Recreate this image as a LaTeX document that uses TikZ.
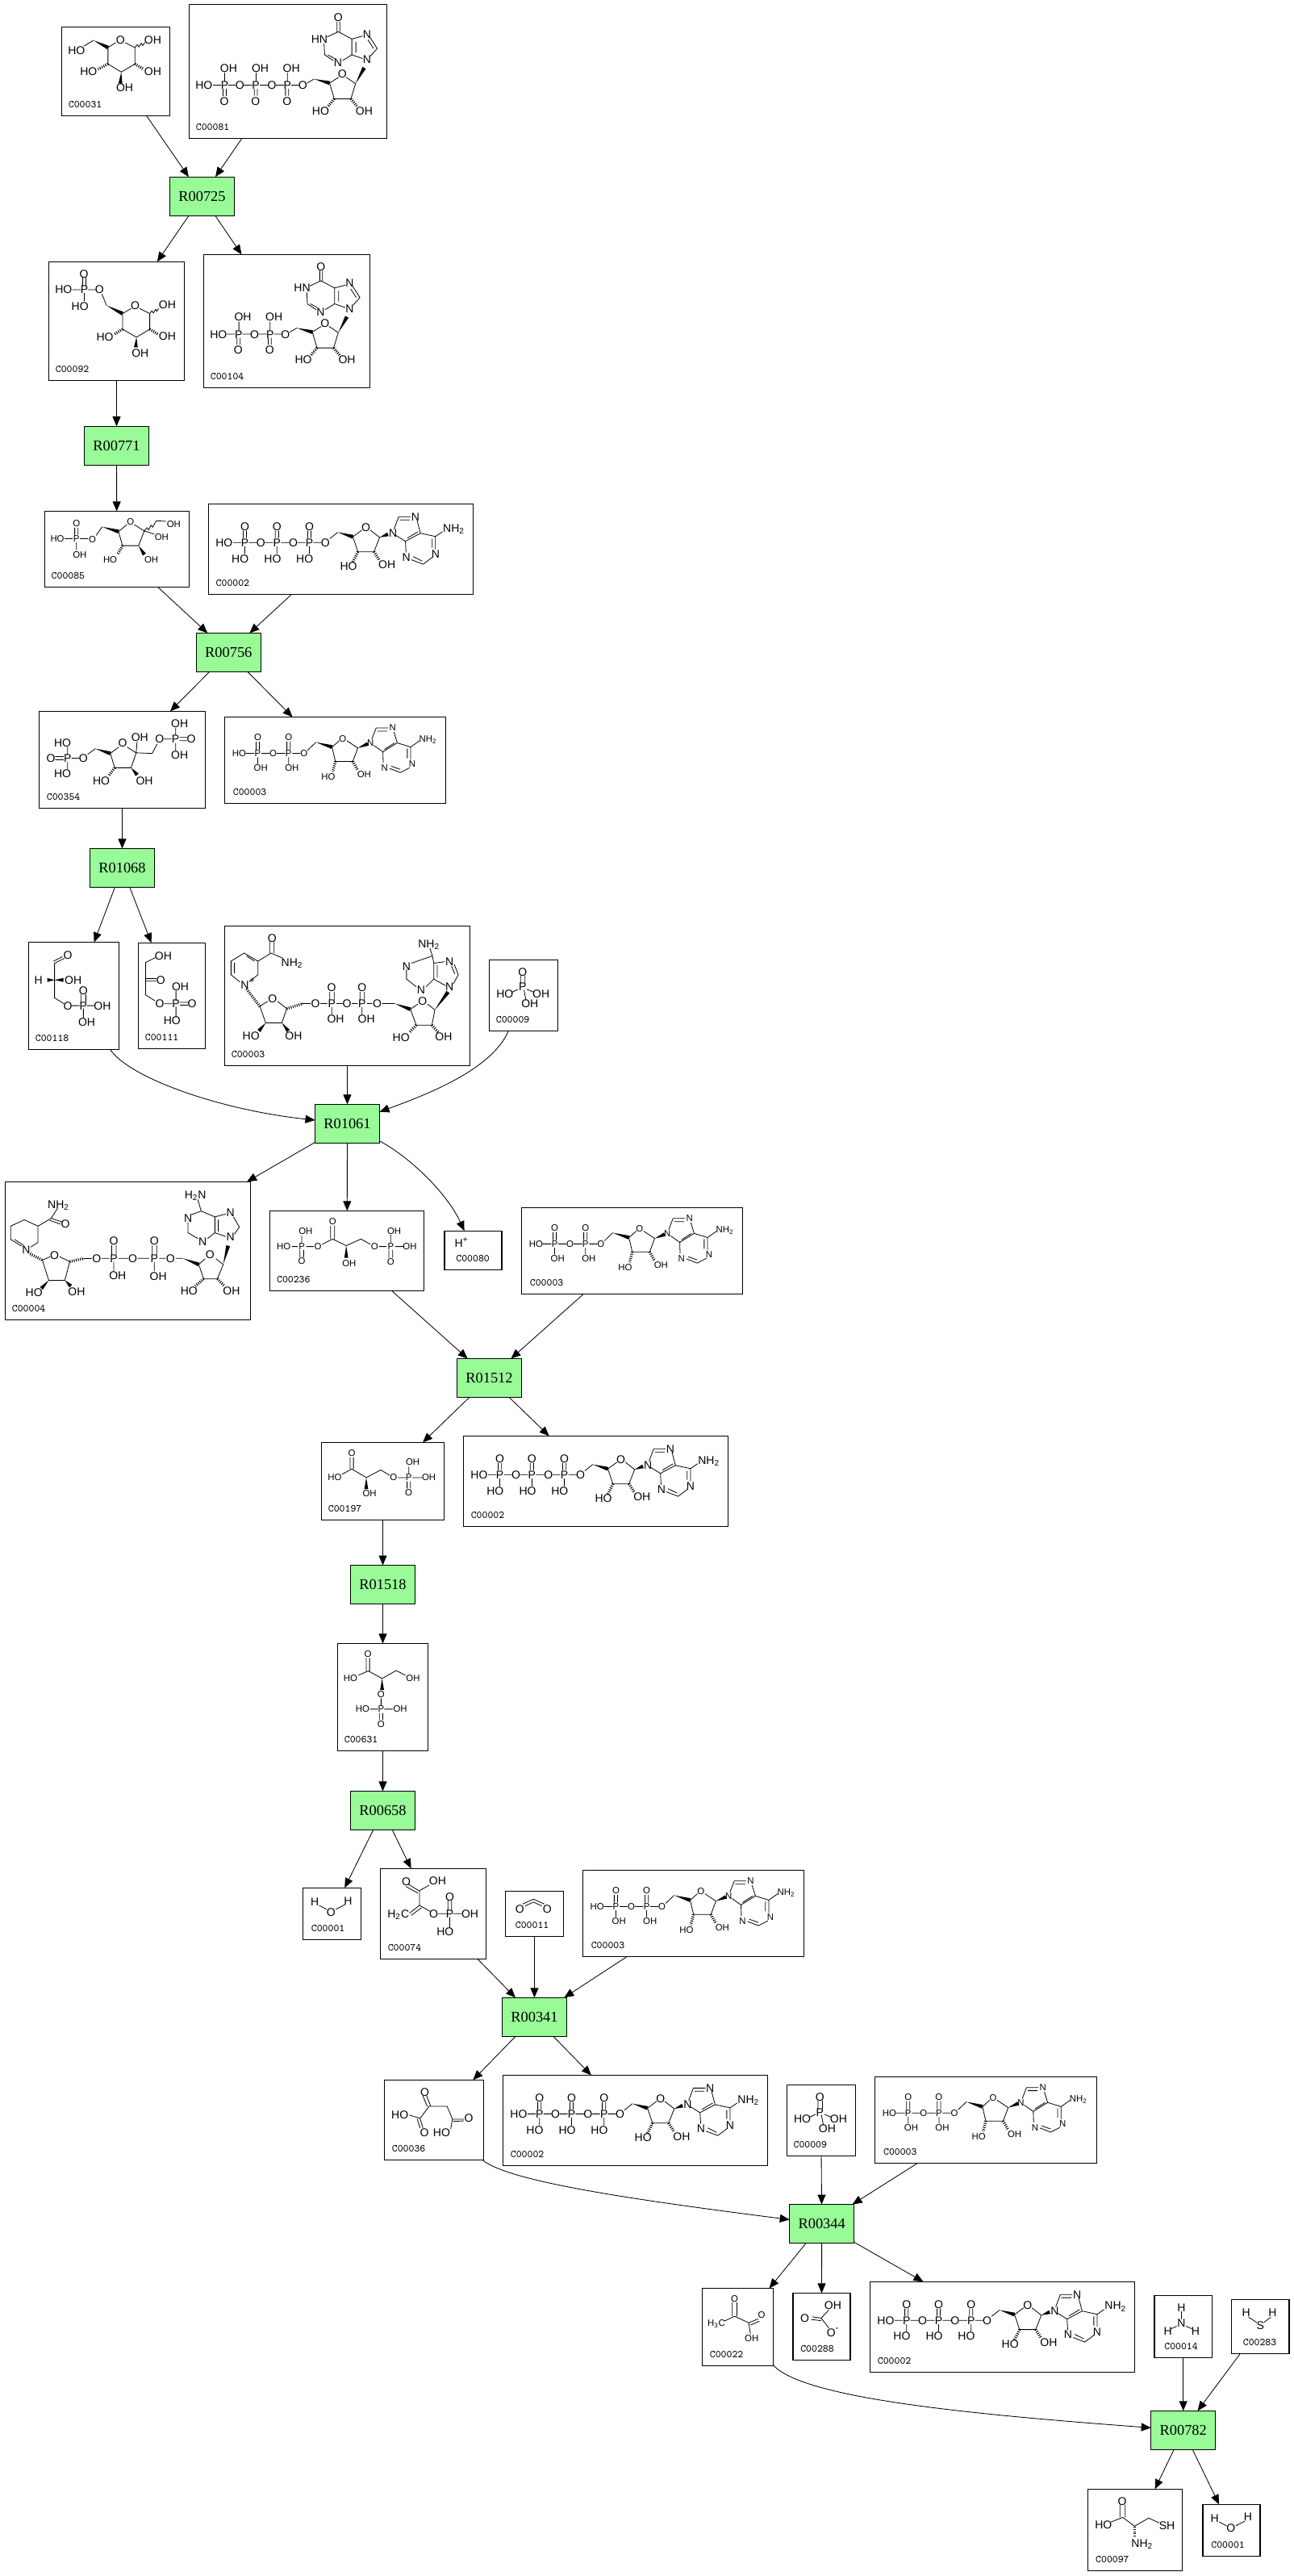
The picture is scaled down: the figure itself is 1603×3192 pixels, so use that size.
\documentclass[tikz,border=0pt]{standalone}
\usepackage{fontspec}
\setmainfont{Liberation Sans}
\newfontfamily\rxnfont{Liberation Serif}
\usetikzlibrary{arrows.meta,calc}
\definecolor{rxngreen}{RGB}{152,251,152}
\tikzset{
  cpd/.style={draw=black,line width=.6pt,fill=white,inner sep=0pt,outer sep=0pt},
  rxn/.style={draw=black,line width=.6pt,fill=rxngreen,inner sep=0pt,outer sep=0pt,minimum width=40pt,minimum height=24pt,font=\rxnfont\fontsize{9.2}{10}\selectfont},
  cpdlab/.style={inner sep=0pt,anchor=base west,font=\ttfamily\fontsize{6.5}{7}\selectfont},
  atom/.style={inner sep=0pt,text height=5pt,text depth=0pt,font=\fontsize{7}{8}\selectfont},
  smallatom/.style={inner sep=0pt,text height=4pt,text depth=0pt,font=\fontsize{5.7}{6.5}\selectfont},
  bond/.style={line width=.4pt},
  hashbond/.style={line width=1.7pt,dash pattern=on .5pt off .8pt},
  reacts/.style={-{Triangle[length=6pt,width=5pt]},line width=.42pt},
  zonea/.style={x=.1913pt,y=-.1786pt},
  zoneb/.style={x=.2073pt,y=-.1977pt},
  zonec/.style={x=.3029pt,y=-.1786pt},
  zoned/.style={x=.2041pt,y=-.1977pt},
  zonee/.style={x=.2232pt,y=-.1667pt},
  zonef/.style={x=.3645pt,y=-.2015pt},
}
\newcommand{\atoms}[2][atom]{\foreach \x/\y/\t in {#2} {\node[#1] (atom\x-\y) at (\x,\y) {\t};}}
\newcommand{\wdg}[2]{\fill (#1) -- ($(#2)!1.2pt!90:(#1)$) -- ($(#2)!1.2pt!-90:(#1)$) -- cycle;}
\newcommand{\hsh}[2]{\draw[hashbond] (#1) -- (#2);}
\newcommand{\cpdbox}[7][8]{\node[cpd,minimum width=#5*.5pt,minimum height=#6*.5pt] (#2) at (#3,#4) {};
  \node[cpdlab] (#2lab) at ([xshift=#1*.5pt,yshift=5pt]#2.south west) {#7};}
% Inosine part shared by the two nucleotides
\newcommand{\inosinepart}{
  \atoms{1096/60/O,1035/135/HN,1189/118/N,1189/207/N,1095/218/N,843/236/OH,944/236/OH,829/295/P,881/295/O,931/295/P,981/295/O,1109/256/O,828/350/O,930/350/O,1039/384/HO,1180/384/OH}
  \draw[bond] (790,295)--(817,295) (842,295)--(869,295) (894,295)--(920,295) (943,295)--(968,295)
    (830,252)--(830,282) (931,252)--(931,282) (824,308)--(824,332) (834,308)--(834,332) (925,308)--(925,332) (935,308)--(935,332)
    (995,288)--(1018,274) (1068,288)--(1097,268) (1122,268)--(1152,290)--(1137,343)--(1083,343)--(1068,288)
    (1092,75)--(1092,110) (1101,75)--(1101,110) (1096,110)--(1060,128) (1050,150)--(1052,190)--(1080,210) (1062,190)--(1084,203)
    (1110,210)--(1140,190)--(1140,135)--(1096,110) (1153,145)--(1153,182)
    (1140,135)--(1175,125) (1198,128)--(1222,168)--(1200,195) (1192,138)--(1210,168) (1175,203)--(1140,190);
  \wdg{1018,274}{1068,288} \wdg{1152,290}{1180,235}
  \hsh{1083,343}{1062,370} \hsh{1137,343}{1158,370}
}
\tikzset{
  glucose/.pic={\begin{scope}[zonea,shift={(-200,-93)}]
    \atoms{248/174/HO,390/138/O,495/138/OH,287/249/HO,495/249/OH,404/305/OH}
    \draw[bond] (375,148)--(350,165)--(350,222)--(393,250)--(437,222)--(437,165)--(405,148) (303,140)--(272,160)
      (437,165)--(445,155)--(450,163)--(458,150)--(462,158)--(470,147);
    \wdg{303,140}{350,165} \wdg{393,250}{390,290}
    \hsh{350,222}{318,240} \hsh{437,222}{465,240}
  \end{scope}},
  itp/.pic={\begin{scope}[zonea,shift={(-613,-15)}]
    \inosinepart
    \atoms{741/236/OH,661/295/HO,728/295/P,777/295/O,727/350/O}
    \draw[bond] (690,295)--(716,295) (740,295)--(764,295) (728,252)--(728,282) (723,308)--(723,332) (733,308)--(733,332);
  \end{scope}},
  idp/.pic={\begin{scope}[zonea,shift={(-716,-19)}]
    \inosinepart
    \atoms{764/295/HO}
  \end{scope}},
  gsixp/.pic={\begin{scope}[zonea,shift={(-158,-908)}]
    \atoms{272/950/O,206/1005/HO,273/1005/P,322/1005/O,259/1062/HO,438/1060/O,542/1058/OH,340/1168/HO,542/1165/OH,454/1224/OH}
    \draw[bond] (234,1005)--(262,1005) (284,1005)--(310,1005) (273,1016)--(273,1045) (268,962)--(268,993) (278,962)--(278,993) (330,1020)--(345,1060)
      (397,1088)--(425,1070) (452,1070)--(485,1088)--(485,1142)--(442,1170)--(397,1142)--(397,1088)
      (485,1088)--(492,1078)--(497,1086)--(504,1073)--(508,1080)--(514,1070);
    \wdg{345,1060}{397,1088} \wdg{442,1170}{440,1205}
    \hsh{397,1142}{370,1160} \hsh{485,1142}{512,1160}
  \end{scope}},
  fsixp/.pic={\begin{scope}[zoneb,shift={(-134,-186)}]
    \atoms[smallatom]{229/225/O,172/272/HO,229/272/P,277/274/O,239/322/OH,391/219/O,520/227/OH,484/267/OH,330/338/HO,453/338/OH}
    \draw[bond] (194,272)--(218,272) (240,272)--(264,272) (229,284)--(229,308) (224,238)--(224,260) (234,238)--(234,260) (288,262)--(306,235)
      (355,250)--(380,228) (402,228)--(432,248)--(415,294)--(367,294)--(355,250) (432,248)--(462,258)
      (432,248)--(440,238)--(445,245)--(452,230)--(457,236)--(468,216)--(498,218);
    \wdg{306,235}{355,250} \wdg{415,294}{432,322}
    \hsh{367,294}{352,322}
  \end{scope}},
  atp/.pic={\begin{scope}[zoneb,shift={(-623,-163)}]
    \atoms{732/233/O,828/233/O,925/233/O,670/284/HO,732/284/P,780/284/O,828/284/P,877/284/O,925/284/P,973/284/O,718/334/HO,815/334/HO,911/334/HO,1094/236/O,1175/254/N,1242/203/N,1357/238/NH\textsubscript{2},1215/329/N,1302/319/N,1042/358/HO,1157/354/OH}
    \draw[bond] (697,284)--(721,284) (744,284)--(768,284) (792,284)--(816,284) (840,284)--(865,284) (889,284)--(913,284) (937,284)--(961,284)
      (732,296)--(732,320) (828,296)--(828,320) (925,296)--(925,320)
      (727,247)--(727,270) (737,247)--(737,270) (823,247)--(823,270) (833,247)--(833,270) (920,247)--(920,270) (930,247)--(930,270)
      (986,272)--(1010,252) (1055,266)--(1082,245) (1107,245)--(1135,268)--(1118,313)--(1070,313)--(1055,266)
      (1178,242)--(1192,203)--(1228,203) (1195,213)--(1225,213) (1247,215)--(1257,255)--(1212,280)--(1184,262) (1250,250)--(1218,270)
      (1212,280)--(1214,315) (1257,255)--(1302,265)--(1323,250) (1302,265)--(1302,305) (1292,272)--(1292,300)
      (1293,330)--(1265,352)--(1230,338) (1262,342)--(1235,328);
    \wdg{1010,252}{1055,266} \wdg{1135,268}{1160,258}
    \hsh{1070,313}{1055,345} \hsh{1118,313}{1135,340}
  \end{scope}},
  fbisp/.pic={\begin{scope}[zoneb,shift={(-117,-813)}]
    \atoms{537/850/OH,418/893/OH,477/900/O,525/900/P,572/900/O,367/913/O,187/911/HO,152/960/O,202/960/P,249/960/O,187/1009/HO,537/950/OH,303/1030/HO,432/1030/OH}
    \draw[bond] (525,865)--(525,888) (525,912)--(525,936) (490,900)--(513,900) (537,895)--(560,895) (537,905)--(560,905)
      (202,925)--(202,948) (202,972)--(202,995) (214,960)--(237,960) (165,955)--(190,955) (165,965)--(190,965) (262,948)--(285,930)
      (330,945)--(355,925) (380,925)--(407,943)--(392,990)--(343,990)--(330,945) (407,943)--(410,908) (407,943)--(455,945)--(470,915);
    \wdg{285,930}{330,945} \wdg{392,990}{410,1012}
    \hsh{343,990}{325,1015}
  \end{scope}},
  adp/.pic={\begin{scope}[zoneb,shift={(-672,-831)}]
    \atoms[smallatom]{771/895/O,863/895/O,715/945/HO,771/945/P,817/945/O,863/945/P,909/945/O,780/990/OH,873/990/OH,1025/898/O,1108/912/N,1174/865/N,1280/900/NH\textsubscript{2},1233/978/N,1150/990/N,982/1018/HO,1089/1011/OH}
    \draw[bond] (735,945)--(761,945) (782,945)--(806,945) (828,945)--(853,945) (874,945)--(898,945)
      (771,957)--(771,978) (863,957)--(863,978) (766,908)--(766,933) (776,908)--(776,933) (858,908)--(858,933) (868,908)--(868,933)
      (920,935)--(945,910) (993,925)--(1015,905) (1037,905)--(1070,928)--(1055,970)--(1003,970)--(993,925)
      (1112,900)--(1125,865)--(1160,865) (1128,875)--(1158,875) (1178,878)--(1188,912)--(1145,940)--(1118,920) (1150,932)--(1180,912)
      (1145,940)--(1146,975) (1188,912)--(1228,925)--(1255,905) (1228,925)--(1228,965) (1218,930)--(1218,960)
      (1225,990)--(1197,1005)--(1165,992) (1197,995)--(1170,985);
    \wdg{945,910}{993,925} \wdg{1070,928}{1100,915}
    \hsh{1003,970}{995,1003} \hsh{1055,970}{1070,998}
  \end{scope}},
  gap/.pic={\begin{scope}[zonec,shift={(-59,-77)}]
    \atoms{139/122/O,79/208/H,150/208/OH,171/245/O,139/297/O,171/297/P,210/297/OH,178/353/OH}
    \draw[bond] (132,133)--(112,150) (128,127)--(110,143) (112,150)--(112,270)--(131,290)
      (166,258)--(166,285) (176,258)--(176,285) (147,297)--(163,297) (179,297)--(193,297) (171,307)--(171,338);
    \wdg{112,208}{97,208} \wdg{112,208}{130,208}
  \end{scope}},
  dhap/.pic={\begin{scope}[zonec,shift={(-283,-79)}]
    \atoms{334/124/OH,329/208/O,369/231/OH,327/290/O,360/290/P,393/290/O,352/348/HO}
    \draw[bond] (318,130)--(298,147)--(298,260)--(317,280) (298,203)--(320,203) (298,212)--(320,212)
      (336,290)--(352,290) (368,285)--(385,285) (368,295)--(385,295) (360,245)--(360,280) (360,300)--(360,335);
  \end{scope}},
  nad/.pic={\begin{scope}[zonec,shift={(-460,-21)}]
    \atoms{557/62/O,598/148/NH\textsubscript{2},501/225/N,558/272/O,646/290/O,679/290/P,679/235/O,710/290/O,741/290/P,741/235/O,772/290/O,687/342/OH,750/342/OH,878/82/NH\textsubscript{2},832/160/N,920/145/N,862/242/N,920/232/N,865/282/O,514/401/HO,601/401/OH,821/408/HO,908/405/OH}
    \atoms[smallatom]{516/210/+}
    \draw[bond] (473,143)--(500,115)--(528,143)--(528,190)--(510,215) (473,190)--(491,215) (473,143)--(473,190) (480,148)--(480,185) (505,125)--(521,143)
      (528,143)--(555,115)--(578,132) (552,115)--(552,75) (561,115)--(561,75)
      (532,300)--(548,282) (568,282)--(587,308)--(577,357)--(544,357)--(532,300)
      (618,290)--(636,290) (656,290)--(670,290) (689,290)--(701,290) (720,290)--(732,290) (751,290)--(762,290) (782,290)--(808,290)
      (675,250)--(675,278) (684,250)--(684,278) (737,250)--(737,278) (746,250)--(746,278) (679,302)--(679,328) (741,302)--(741,328)
      (840,310)--(855,292) (875,292)--(890,312)--(884,365)--(852,365)--(840,310)
      (885,125)--(880,98) (885,125)--(842,150) (832,172)--(832,205)--(852,232) (872,232)--(888,205)--(888,150)--(885,125) (888,150)--(910,145) (888,205)--(912,228) (895,155)--(895,200)
      (930,155)--(938,190)--(928,222) (924,160)--(931,188);
    \wdg{808,290}{840,310} \wdg{544,357}{530,385} \wdg{577,357}{590,385} \wdg{890,312}{917,250}
    \hsh{505,240}{532,300} \hsh{587,308}{620,290} \hsh{852,365}{838,390} \hsh{884,365}{897,390}
  \end{scope}},
  pho/.pic={\begin{scope}[zonec,shift={(-1001,-138)}]
    \atoms{1069/180/O,1033/257/HO,1069/232/P,1107/255/OH,1084/290/OH}
    \draw[bond] (1065,192)--(1065,222) (1074,192)--(1074,222) (1060,240)--(1048,250) (1078,240)--(1092,250) (1072,242)--(1076,278);
  \end{scope}},
  nadh/.pic={\begin{scope}[zonec,shift={(-11,-908)}]
    \atoms{120/987/NH\textsubscript{2},134/1055/O,400/953/H\textsubscript{2}N,385/1035/N,472/1015/N,415/1115/N,472/1100/N,54/1145/N,112/1162/O,198/1174/O,233/1174/P,233/1113/O,272/1174/O,316/1174/P,316/1113/O,349/1174/O,241/1232/OH,324/1235/OH,430/1160/O,70/1292/HO,157/1288/OH,387/1286/HO,474/1286/OH}
    \draw[bond] (50,1040)--(78,1062)--(78,1118)--(63,1135) (50,1040)--(22,1062)--(22,1108)--(45,1132) (30,1108)--(48,1128)
      (78,1062)--(105,1035)--(118,1000) (105,1035)--(128,1048) (102,1042)--(124,1055)
      (87,1180)--(103,1168) (122,1168)--(143,1185)--(133,1250)--(100,1250)--(87,1180) (170,1175)--(188,1174)
      (208,1174)--(224,1174) (243,1174)--(262,1174) (282,1174)--(306,1174) (326,1174)--(339,1174) (360,1174)--(375,1174)
      (229,1128)--(229,1162) (238,1128)--(238,1162) (312,1128)--(312,1162) (321,1128)--(321,1162) (233,1186)--(233,1218) (316,1186)--(316,1218)
      (407,1195)--(420,1175) (442,1175)--(457,1195)--(445,1245)--(417,1245)--(407,1195)
      (412,1010)--(405,970) (412,1010)--(392,1022) (412,1010)--(440,1030)--(462,1020) (440,1030)--(440,1085)--(462,1098) (440,1085)--(425,1105) (447,1040)--(447,1080)
      (405,1105)--(385,1085)--(385,1048) (478,1030)--(490,1065)--(480,1090);
    \wdg{375,1174}{407,1195} \wdg{100,1250}{85,1278} \wdg{133,1250}{145,1270} \wdg{457,1195}{467,1130}
    \hsh{62,1158}{87,1180} \hsh{143,1185}{170,1175} \hsh{417,1245}{400,1270} \hsh{445,1245}{460,1270}
  \end{scope}},
  bpg/.pic={\begin{scope}[zonec,shift={(-552,-1009)}]
    \atoms[smallatom]{625/1080/OH,580/1133/HO,617/1133/P,650/1133/O,617/1184/O,680/1047/O,766/1133/O,799/1133/P,806/1080/OH,838/1133/OH,799/1186/O,714/1192/OH}
    \draw[bond] (617,1095)--(617,1120) (597,1133)--(609,1133) (626,1133)--(641,1133) (659,1125)--(680,1107) (613,1145)--(613,1170) (621,1145)--(621,1170)
      (676,1060)--(676,1107) (684,1060)--(684,1107) (680,1107)--(708,1130)--(738,1107)--(757,1125)
      (775,1133)--(790,1133) (808,1133)--(825,1133) (799,1092)--(799,1120) (795,1145)--(795,1172) (803,1145)--(803,1172);
    \wdg{708,1130}{708,1172}
  \end{scope}},
  proton/.pic={\begin{scope}[zonec,shift={(-909,-1079)}]
    \atoms{944/1122/H\textsuperscript{+}}
  \end{scope}},
  pgathree/.pic={\begin{scope}[zoned,shift={(-143,-322)}]
    \atoms[smallatom]{235/356/O,183/432/HO,420/384/OH,362/432/O,408/432/P,469/432/OH,408/480/O,289/482/OH}
    \draw[bond] (230,368)--(230,405) (240,368)--(240,405) (235,405)--(205,422) (235,405)--(279,432)--(323,408)--(350,425)
      (374,432)--(398,432) (418,432)--(448,432) (408,398)--(408,420) (403,444)--(403,466) (413,444)--(413,466);
    \wdg{279,432}{279,468}
  \end{scope}},
  pgatwo/.pic={\begin{scope}[zoned,shift={(-192,-952)}]
    \atoms[smallatom]{284/986/O,231/1061/HO,421/1061/OH,324/1112/O,268/1158/HO,324/1158/P,382/1158/OH,324/1205/O}
    \draw[bond] (279,998)--(279,1038) (289,998)--(289,1038) (285,1038)--(255,1052) (285,1038)--(327,1062)--(370,1037)--(398,1052)
      (324,1124)--(324,1146) (290,1158)--(314,1158) (334,1158)--(360,1158) (319,1170)--(319,1192) (329,1170)--(329,1192);
    \wdg{327,1062}{327,1098}
  \end{scope}},
  water/.pic={\begin{scope}[zonee,shift={(-79,-238)}]
    \atoms{112/289/H,204/285/H,157/327/O}
    \draw[bond] (124,303)--(145,318) (170,318)--(196,300);
  \end{scope}},
  pep/.pic={\begin{scope}[zonee,shift={(-294,-166)}]
    \atoms{366/214/O,453/212/OH,487/270/O,344/335/H\textsubscript{2}C,442/334/O,487/334/P,543/334/OH,474/399/HO}
    \draw[bond] (372,225)--(403,250) (365,233)--(398,257) (403,248)--(430,228) (403,248)--(403,303) (403,303)--(375,332) (408,312)--(380,340) (403,303)--(432,325)
      (454,334)--(478,334) (497,334)--(520,334) (482,283)--(482,322) (492,283)--(492,322) (487,346)--(487,385);
  \end{scope}},
  cotwo/.pic={\begin{scope}[zonee,shift={(-642,-250)}]
    \atoms{682/315/O,758/315/O}
    \draw[bond] (690,298)--(720,280)--(750,298) (697,305)--(720,291)--(743,305);
  \end{scope}},
  oaa/.pic={\begin{scope}[zonee,shift={(-306,-952)}]
    \atoms{418/996/O,349/1080/HO,540/1093/O,417/1146/O,465/1146/HO}
    \draw[bond] (413,1012)--(425,1050) (423,1010)--(434,1048) (430,1050)--(480,1050)--(495,1098)--(490,1135) (495,1098)--(527,1098) (497,1106)--(527,1104)
      (430,1050)--(405,1095)--(375,1082) (405,1095)--(413,1130) (397,1097)--(405,1130);
  \end{scope}},
  hco/.pic={\begin{scope}[zonef,shift={(-717,-698)}]
    \atoms{785/736/OH,737/775/O,782/819/O}
    \atoms[smallatom]{792/804/-}
    \draw[bond] (778,750)--(765,775)--(750,771) (765,783)--(748,779) (765,775)--(778,805);
  \end{scope}},
  pyr/.pic={\begin{scope}[zonef,shift={(-563,-684)}]
    \atoms[smallatom]{618/716/O,587/790/H\textsubscript{3}C,664/767/O,647/837/OH}
    \draw[bond] (614,727)--(614,770) (622,727)--(622,770) (618,770)--(600,785) (618,770)--(642,790)--(658,778) (645,797)--(660,785) (642,790)--(645,825);
  \end{scope}},
  ammonia/.pic={\begin{scope}[zonef,shift={(-1332,-706)}]
    \atoms{1378/742/H,1378/790/N,1355/815/H,1402/815/H}
    \draw[bond] (1378,754)--(1378,778) (1370,800)--(1360,808) (1386,800)--(1396,808);
  \end{scope}},
  sulfide/.pic={\begin{scope}[zonef,shift={(-1463,-718)}]
    \atoms{1488/758/H,1533/758/H,1512/798/S}
    \draw[bond] (1492,772)--(1506,788) (1518,788)--(1530,772);
  \end{scope}},
  cys/.pic={\begin{scope}[zonef,shift={(-1219,-1301)}]
    \atoms{1277/1338/O,1245/1410/HO,1353/1413/SH,1311/1467/NH\textsubscript{2}}
    \draw[bond] (1273,1350)--(1273,1388) (1282,1350)--(1282,1388) (1278,1388)--(1258,1402) (1278,1388)--(1298,1415)--(1322,1390)--(1340,1405);
    \hsh{1298,1418}{1298,1450}
  \end{scope}},
}
\begin{document}
\begin{tikzpicture}[x=.5pt,y=-.5pt]
\useasboundingbox (0,0) rectangle (1603,3192);

% Reactions
\foreach \rname/\rx/\ry in {R00725/250.5/243.2,R00771/144.5/552.2,R00756/283.3/808.5,R01068/151.5/1075.4,R01061/430.5/1392.3,R01512/606.5/1707.5,R01518/474.5/1963.5,R00658/474.5/2243.4,R00341/662.5/2499.3,R00344/1018.7/2755.5,R00782/1466.7/3011.3}
  \node[rxn] (\rname) at (\rx,\ry) {\rname};

% Compounds
\cpdbox{c31}{143.5}{88.2}{134}{110}{C00031}
\cpdbox{c81}{357}{88.4}{245}{166}{C00081}
\cpdbox{c92}{144.5}{397.8}{168}{147}{C00092}
\cpdbox{c104}{355.5}{397.9}{206}{165}{C00104}
\cpdbox{c85}{144.8}{680.4}{179}{94}{C00085}
\cpdbox[9]{atpa}{422.3}{680.4}{328}{112}{C00002}
\cpdbox[9]{c354}{151.5}{941.4}{206}{120}{C00354}
\cpdbox[10]{adpa}{415.5}{942}{274}{107}{C00003}
\cpdbox{c118}{91.5}{1234}{112}{133}{C00118}
\cpdbox{c111}{213}{1233.8}{83}{131}{C00111}
\cpdbox{nadp}{430.5}{1233.9}{304}{173}{C00003}
\cpdbox{phoa}{649}{1233.4}{85}{88}{C00009}
\cpdbox{c4}{158.5}{1549.8}{304}{171}{C00004}
\cpdbox{c236}{430.2}{1549.8}{191}{99}{C00236}
\cpdbox[14]{c80}{586.5}{1549.2}{71}{48}{C00080}
\cpdbox[10]{adpb}{783.5}{1549.8}{274}{107}{C00003}
\cpdbox{c197}{474.5}{1835.4}{152}{96}{C00197}
\cpdbox[9]{atpb}{738.4}{1835.4}{328}{112}{C00002}
\cpdbox{c631}{474.5}{2102.9}{112}{133}{C00631}
\cpdbox[10]{watera}{411.5}{2371.3}{72}{64}{C00001}
\cpdbox[9]{c74}{536.9}{2371.3}{131}{112}{C00074}
\cpdbox[12]{c11}{662.5}{2371.3}{72}{56}{C00011}
\cpdbox[10]{adpc}{859.4}{2370.8}{274}{107}{C00003}
\cpdbox[9]{c36}{538}{2626.8}{123}{99}{C00036}
\cpdbox[9]{atpc}{787.5}{2627.5}{328}{112}{C00002}
\cpdbox{phob}{1017.7}{2627.4}{85}{88}{C00009}
\cpdbox[10]{adpd}{1222.2}{2626.7}{275}{107}{C00003}
\cpdbox[9]{c22}{914.5}{2883.5}{88}{96}{C00022}
\cpdbox[9]{c288}{1018.4}{2882.9}{71}{83}{C00288}
\cpdbox[9]{atpd}{1242.5}{2883.3}{328}{112}{C00002}
\cpdbox[12]{c14}{1466.7}{2883.1}{71.5}{77}{C00014}
\cpdbox[14]{c283}{1562.2}{2883}{71.5}{67}{C00283}
\cpdbox[9]{c97}{1407.3}{3134.8}{117}{101}{C00097}
\cpdbox[10]{waterb}{1526.5}{3135.2}{71}{64}{C00001}

% Structures
\foreach \boxname/\molname in {c31/glucose,c81/itp,c92/gsixp,c104/idp,c85/fsixp,atpa/atp,c354/fbisp,adpa/adp,c118/gap,c111/dhap,nadp/nad,phoa/pho,c4/nadh,c236/bpg,c80/proton,adpb/adp,c197/pgathree,atpb/atp,c631/pgatwo,watera/water,c74/pep,c11/cotwo,adpc/adp,c36/oaa,atpc/atp,phob/pho,adpd/adp,c22/pyr,c288/hco,atpd/atp,c14/ammonia,c283/sulfide,c97/cys,waterb/water}
  \pic at (\boxname.north west) {\molname};

% Straight arrows
\foreach \from/\to in {c31/R00725,c81/R00725,R00725/c92,R00725/c104,c92/R00771,R00771/c85,c85/R00756,atpa/R00756,R00756/c354,R00756/adpa,c354/R01068,R01068/c118,R01068/c111,nadp/R01061,R01061/c4,R01061/c236,c236/R01512,adpb/R01512,R01512/c197,R01512/atpb,c197/R01518,R01518/c631,c631/R00658,R00658/watera,R00658/c74,c74/R00341,c11/R00341,adpc/R00341,R00341/c36,R00341/atpc,phob/R00344,adpd/R00344,R00344/c22,R00344/c288,R00344/atpd,c14/R00782,c283/R00782,R00782/c97,R00782/waterb}
  \draw[reacts] (\from) -- (\to);

% Curved arrows
\draw[reacts] (c118) .. controls (160,1335) and (270,1375) .. (R01061);
\draw[reacts] (phoa) .. controls (610,1325) and (530,1356) .. (R01061);
\draw[reacts] (R01061) .. controls (510,1435) and (555,1480) .. (c80);
\draw[reacts] (c36) .. controls (630,2703) and (780,2725) .. (R00344);
\draw[reacts] (c22) .. controls (995,2970) and (1180,2990) .. (R00782);

\end{tikzpicture}
\end{document}
